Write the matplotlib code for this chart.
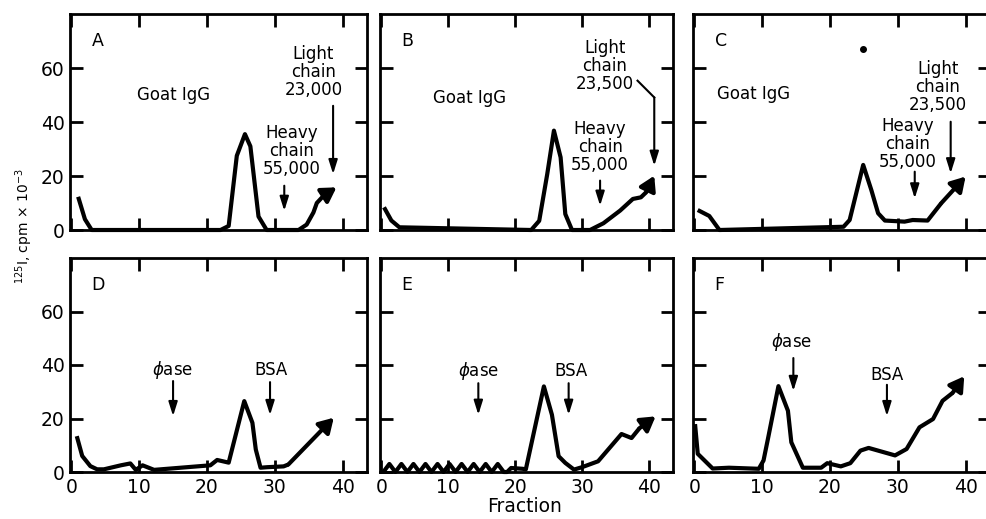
import matplotlib
matplotlib.use('Agg')
import matplotlib.pyplot as plt

plt.rcParams['font.family'] = ['DejaVu Sans']

# elution profiles, 125I cpm x 10^-3 per fraction
a_x = [1, 2, 3, 22, 23.2, 24.4, 25.6, 26.4, 27.6, 28.8, 33.5, 34.7, 35.7, 36.2, 37.2, 39.1]
a_y = [12.3, 4, 0, 0, 1.5, 27.5, 35.5, 31, 5, 0, 0, 2, 6.5, 10, 12.7, 15.8]

b_x = [0.4, 1.5, 2.7, 22.4, 23.6, 24.8, 25.8, 26.8, 27.5, 28.5, 31.2, 33.2, 35.7, 37.6, 38.8, 39.6, 40.8]
b_y = [8.4, 3.5, 1, 0, 3.4, 20.7, 36.8, 26.9, 5.9, 0, 0, 2.5, 7.2, 11.5, 12.1, 14, 20.1]

c_x = [0.5, 2.2, 3.7, 22.0, 22.9, 24.9, 26.1, 27.1, 28.1, 31.0, 32.2, 34.4, 36.4, 40.0]
c_y = [7.4, 5.2, 0, 1.2, 3.7, 24.1, 14.8, 6.2, 3.5, 3.1, 3.7, 3.5, 9.9, 19.8]

d_x = [0.8, 1.6, 2.8, 3.8, 4.8, 7.3, 8.7, 9.5, 10.5, 12.2, 20.5, 21.5, 23.2, 25.5, 26.7, 27.2,
       27.9, 28.9, 31.3, 32.0, 38.7]
d_y = [13.4, 6, 2.2, 1, 1, 2.5, 3.2, 0.8, 2.5, 0.8, 2.5, 4.5, 3.5, 26.5, 18.4, 8.4,
       1.6, 1.8, 2.1, 2.8, 20.3]

e_x = [0.3, 1.2, 2.1, 3.0, 3.9, 4.8, 5.7, 6.6, 7.5, 8.4, 9.3, 10.2, 11.1, 12.0, 12.9, 13.8,
       14.7, 15.6, 16.5, 17.4, 18.3, 18.8, 19.4, 21.1, 21.6, 24.3, 25.5, 26.5, 27.5, 28.8,
       30.0, 32.4, 35.9, 37.4, 38.6, 41.0]
e_y = [0, 3, 0, 3, 0, 3, 0, 3, 0, 3, 0, 3, 0, 3, 0, 3,
       0, 3, 0, 3, 0, 0, 1.5, 1.2, 1, 32, 21.4, 5.9, 3.4, 0.9,
       1.8, 4.0, 14.2, 12.7, 16.4, 20.8]

f_x = [0.1, 0.5, 2.7, 5.1, 9.5, 10.2, 10.9, 12.4, 13.8, 14.3, 16.0, 18.7, 19.6, 21.6, 23.0,
       24.5, 25.7, 29.6, 31.3, 33.2, 35.2, 36.6, 38.1, 39.8]
f_y = [17.9, 6.8, 1.3, 1.6, 1.2, 4.3, 13, 32.1, 22.9, 11.1, 1.6, 1.6, 3.3, 2.1, 3.3,
       8, 9, 6.2, 8.6, 16.7, 19.8, 26.6, 29.6, 35.8]

x_ticks = [0, 10, 20, 30, 40]
y_ticks = [0, 20, 40, 60]

fig = plt.figure(figsize=(9.87, 5.19), dpi=100)

lefts = [70 / 987, 380 / 987, 693 / 987]
widths = [297 / 987, 293 / 987, 297 / 987]
bottoms = [(519 - 230) / 519, (519 - 472) / 519]
heights = [216 / 519, 214 / 519]

axes = {}
names = [['A', 'B', 'C'], ['D', 'E', 'F']]
for r in range(2):
    for c in range(3):
        ax = fig.add_axes([lefts[c], bottoms[r], widths[c], heights[r]])
        ax.set_xlim(-0.2, 43.6)
        ax.set_ylim(0, 80)
        ax.set_xticks(x_ticks)
        ax.set_yticks(y_ticks)
        ax.tick_params(direction='in', length=9, width=2, top=True, right=True,
                       labelsize=13.5, pad=4)
        if c > 0:
            ax.tick_params(labelleft=False)
        if r == 0:
            ax.tick_params(labelbottom=False)
        for s in ax.spines.values():
            s.set_linewidth(2)
        ax.text(3.0, 70, names[r][c], fontsize=12.5, ha='left', va='center')
        axes[names[r][c]] = ax


def curve(ax, xs, ys):
    ax.plot(xs[:-1], ys[:-1], color='k', lw=3, solid_joinstyle='round',
            solid_capstyle='butt', clip_on=False)
    ax.annotate('', xy=(xs[-1], ys[-1]), xytext=(xs[-2], ys[-2]),
                arrowprops=dict(arrowstyle='-|>,head_length=0.5,head_width=0.3',
                                lw=3, color='k', mutation_scale=17,
                                shrinkA=0, shrinkB=0))


def marker(ax, x, y0, y1):
    ax.annotate('', xy=(x, y1), xytext=(x, y0),
                arrowprops=dict(arrowstyle='-|>,head_length=0.7,head_width=0.22',
                                lw=1.5, color='k', mutation_scale=12,
                                shrinkA=0, shrinkB=0))


lab = dict(fontsize=12, ha='center', va='center', linespacing=1.0)

# A
ax = axes['A']
curve(ax, a_x, a_y)
ax.text(15.1, 50.1, 'Goat IgG', **lab)
ax.text(35.7, 58.5, 'Light\nchain\n23,000', **lab)
marker(ax, 38.6, 46, 20.7)
ax.text(32.5, 29.3, 'Heavy\nchain\n55,000', **lab)
marker(ax, 31.4, 16.4, 7.1)

# B
ax = axes['B']
curve(ax, b_x, b_y)
ax.text(13.2, 49, 'Goat IgG', **lab)
ax.text(33.4, 60.6, 'Light\nchain\n23,500', **lab)
ax.plot([38.3, 40.8], [55.3, 49.1], color='k', lw=1.5)
marker(ax, 40.8, 49.1, 23.8)
ax.text(32.7, 30.6, 'Heavy\nchain\n55,000', **lab)
marker(ax, 32.7, 18.3, 9.0)

# C
ax = axes['C']
curve(ax, c_x, c_y)
ax.plot([24.9], [66.9], 'o', color='k', ms=4)
ax.text(8.8, 50.3, 'Goat IgG', **lab)
ax.text(35.9, 52.8, 'Light\nchain\n23,500', **lab)
marker(ax, 37.8, 40.1, 21)
ax.text(31.5, 31.7, 'Heavy\nchain\n55,000', **lab)
marker(ax, 32.5, 21.6, 11.7)

# D
ax = axes['D']
curve(ax, d_x, d_y)
ax.text(15.0, 38.3, r'$\phi$ase', **lab)
marker(ax, 15.0, 34.0, 20.9)
ax.text(29.4, 38, 'BSA', **lab)
marker(ax, 29.3, 33.6, 21.3)

# E
ax = axes['E']
curve(ax, e_x, e_y)
ax.text(14.5, 37.6, r'$\phi$ase', **lab)
marker(ax, 14.5, 33.2, 21.4)
ax.text(28.4, 37.6, 'BSA', **lab)
marker(ax, 28.0, 33.2, 21.4)

# F
ax = axes['F']
curve(ax, f_x, f_y)
ax.text(14.3, 48.5, r'$\phi$ase', **lab)
marker(ax, 14.6, 42.6, 30.3)
ax.text(28.4, 36.4, 'BSA', **lab)
marker(ax, 28.4, 32.6, 20.9)

fig.text(525 / 987, (519 - 507) / 519, 'Fraction', fontsize=13.5, ha='center', va='center')
fig.text(24 / 987, (519 - 226) / 519, r'$^{125}$I, cpm $\times$ 10$^{-3}$',
         fontsize=10, rotation=90, ha='center', va='center')

fig.savefig('out.png', dpi=100)
